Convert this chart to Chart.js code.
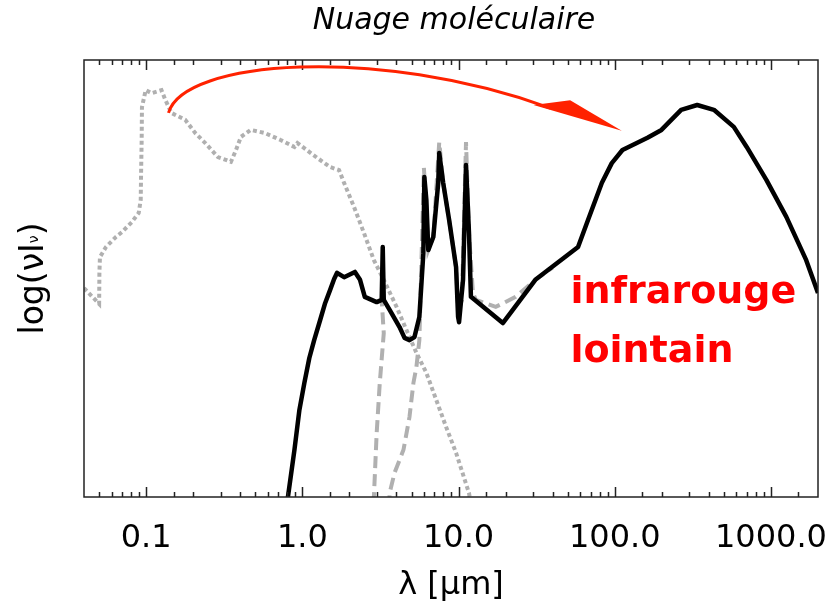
<!DOCTYPE html>
<html>
<head>
<meta charset="utf-8">
<script src="https://cdn.jsdelivr.net/npm/chart.js@4.4.1/dist/chart.umd.min.js"></script>
<style>
  html, body { margin: 0; padding: 0; background: #fff; }
</style>
</head>
<body>
<canvas id="sedChart" width="840" height="607"></canvas>
<script>
// x axis: wavelength in microns (log), y axis: log(nu I_nu), arbitrary units 0..100
const tickValues = [0.1, 1, 10, 100, 1000];
const tickLabels = ['0.1', '1.0', '10.0', '100.0', '1000.0'];

// black solid: emission of the cloud
const dustLambda = [0.78, 0.89, 0.957, 1.03, 1.108, 1.19, 1.30, 1.40, 1.506, 1.597, 1.668, 1.85, 2.17,
  2.34, 2.51, 2.99, 3.22, 3.27, 3.32, 3.62, 4.19, 4.51, 4.85, 5.22, 5.61, 5.95, 6.04, 6.22, 6.40, 6.89,
  7.41, 7.52, 7.97, 8.70, 9.64, 9.93, 10.07, 10.68, 11.16, 11.66, 12.0, 19.2, 31.0, 58.2, 67.4, 82.7,
  95.7, 112, 162, 199, 266, 337, 431, 578, 699, 936, 1254, 1681, 2000];
const dustFlux = [-4, 10.8, 19.9, 26.1, 31.8, 35.9, 40.5, 44.4, 47.4, 49.9, 51.3, 50.3, 51.5,
  49.7, 45.8, 44.6, 45.1, 57.2, 45.1, 42.8, 38.9, 36.4, 35.9, 36.6, 41.2, 55.8, 73.2, 68.0, 56.5, 59.5,
  71.9, 78.7, 71.9, 63.4, 52.6, 41.2, 40.0, 49.7, 76.0, 60.4, 45.8, 39.8, 49.7, 57.2, 63.4, 71.9,
  76.4, 79.4, 82.2, 84.0, 88.6, 89.7, 88.6, 84.7, 80.1, 72.5, 64.1, 54.2, 46.7];

// grey dashed: model emission
const modelLambda = [2.99, 3.22, 3.32, 3.13, 2.99, 2.87, 2.83, 3.57, 3.62, 3.89, 4.44, 4.85, 5.14, 5.37,
  5.61, 6.0, 6.22, 6.40, 6.89, 7.52, 7.97, 8.70, 9.64, 9.93, 10.5, 11.16, 11.66, 12.36, 12.92, 17.3,
  23.2, 31.0, 40.0];
const modelFlux = [44.6, 45.1, 37.5, 26.1, 14.6, 0, -5, -5, 0.9, 5.5, 10.8, 18.3, 26.1, 29.7,
  35.9, 75.3, 65.7, 56.5, 59.5, 81.2, 71.9, 63.4, 52.6, 42.8, 45.0, 81.2, 60.4, 46.7, 45.1, 43.5,
  45.8, 49.7, 52.5];

// grey dotted: stellar radiation
const starLambda = [0.04, 0.05, 0.0502, 0.0506, 0.0553, 0.064, 0.0699, 0.0809, 0.0896, 0.0923, 0.0928,
  0.0936, 0.094, 0.0993, 0.1084, 0.1254, 0.133, 0.145, 0.178, 0.206, 0.239, 0.288, 0.349, 0.376, 0.404,
  0.468, 0.574, 0.725, 0.89, 0.93, 1.245, 1.506, 1.718, 1.848, 2.14, 2.48, 2.87, 3.32, 4.01, 4.64, 5.37,
  6.22, 7.20, 8.33, 9.64, 11.66, 12.3];
const starFlux = [47.8, 44.2, 51.3, 54.9, 57.2, 59.5, 60.6, 62.9, 65.0, 68.0, 74.1,
  81.7, 89.2, 93.1, 92.4, 93.1, 90.8, 87.9, 86.3, 83.3, 81.0, 77.8, 76.7, 79.4, 82.4,
  84.0, 83.3, 81.7, 80.1, 81.0, 77.6, 75.5, 74.8, 71.9, 66.4, 60.4, 54.2, 49.7, 43.5, 38.2, 33.0,
  28.4, 22.2, 16.0, 10.1, 0.9, -4];

// red arrow (bezier) and label, in data coordinates
const arrowCurve = [[0.139, 87.9], [0.173, 100], [2.99, 103.4], [38.7, 89.0]];
const arrowHead = [[30.2, 89.7], [51.8, 90.8], [110.8, 83.8]];
const farIrText = ['infrarouge', 'lointain'];
const farIrPos = [[52, 44.4], [52, 30.9]];

function toPoints(xs, ys) {
  return xs.map((x, i) => ({ x: x, y: ys[i] }));
}

function tickIndex(v) {
  return tickValues.findIndex(t => Math.abs(Math.log10(v) - Math.log10(t)) < 1e-6);
}

const sedDecor = {
  id: 'sedDecor',
  afterDraw(chart) {
    const { ctx, chartArea: a, scales: { x, y } } = chart;
    ctx.save();

    // frame and inward ticks
    ctx.strokeStyle = '#222';
    ctx.lineWidth = 1.5;
    ctx.beginPath();
    x.ticks.forEach(t => {
      const px = Math.round(x.getPixelForValue(t.value)) + 0.5;
      if (px <= a.left + 2 || px >= a.right - 2) return;
      const len = tickIndex(t.value) >= 0 ? 10 : 5;
      ctx.moveTo(px, a.bottom);
      ctx.lineTo(px, a.bottom - len);
      ctx.moveTo(px, a.top);
      ctx.lineTo(px, a.top + len);
    });
    ctx.stroke();
    ctx.strokeRect(a.left, a.top, a.right - a.left, a.bottom - a.top);

    // y axis label: log(nu I_nu)
    ctx.fillStyle = '#000';
    ctx.translate(43, (a.top + a.bottom) / 2);
    ctx.rotate(-Math.PI / 2);
    ctx.textBaseline = 'alphabetic';
    ctx.font = '33px "DejaVu Sans"';
    const main = 'log(\u03bdI';
    const wMain = ctx.measureText(main).width;
    const wClose = ctx.measureText(')').width;
    ctx.font = '14px "DejaVu Sans"';
    const wSub = ctx.measureText('\u03bd').width;
    let cx = -(wMain + wSub + wClose) / 2;
    ctx.font = '33px "DejaVu Sans"';
    ctx.fillText(main, cx, 0);
    cx += wMain;
    ctx.font = '14px "DejaVu Sans"';
    ctx.fillText('\u03bd', cx, -5);
    cx += wSub;
    ctx.font = '33px "DejaVu Sans"';
    ctx.fillText(')', cx, 0);
    ctx.restore();

    // red arrow
    ctx.save();
    const p = arrowCurve.map(d => [x.getPixelForValue(d[0]), y.getPixelForValue(d[1])]);
    ctx.strokeStyle = '#ff2200';
    ctx.fillStyle = '#ff2200';
    ctx.lineWidth = 3;
    ctx.beginPath();
    ctx.moveTo(p[0][0], p[0][1]);
    ctx.bezierCurveTo(p[1][0], p[1][1], p[2][0], p[2][1], p[3][0], p[3][1]);
    ctx.stroke();
    const h = arrowHead.map(d => [x.getPixelForValue(d[0]), y.getPixelForValue(d[1])]);
    ctx.beginPath();
    ctx.moveTo(h[0][0], h[0][1]);
    ctx.lineTo(h[1][0], h[1][1]);
    ctx.lineTo(h[2][0], h[2][1]);
    ctx.closePath();
    ctx.fill();

    // far infrared label
    ctx.fillStyle = '#ff0000';
    ctx.font = 'bold 38px "DejaVu Sans"';
    ctx.textBaseline = 'alphabetic';
    farIrText.forEach((s, i) => {
      ctx.fillText(s, x.getPixelForValue(farIrPos[i][0]), y.getPixelForValue(farIrPos[i][1]));
    });
    ctx.restore();
  }
};

const grey = '#b0b0b0';

new Chart(document.getElementById('sedChart'), {
  type: 'line',
  data: {
    datasets: [
      {
        label: 'Nuage',
        data: toPoints(dustLambda, dustFlux),
        borderColor: '#000',
        borderWidth: 4.5,
        pointRadius: 0,
        tension: 0,
        borderJoinStyle: 'round'
      },
      {
        label: 'Modèle',
        data: toPoints(modelLambda, modelFlux),
        borderColor: grey,
        borderWidth: 4,
        borderDash: [12, 6],
        pointRadius: 0,
        tension: 0
      },
      {
        label: 'Étoiles',
        data: toPoints(starLambda, starFlux),
        borderColor: grey,
        borderWidth: 4,
        borderDash: [4, 3],
        pointRadius: 0,
        tension: 0
      }
    ]
  },
  options: {
    responsive: false,
    animation: false,
    layout: { padding: { left: 84, right: 16, top: 0, bottom: 0 } },
    plugins: {
      legend: { display: false },
      tooltip: { enabled: false },
      title: {
        display: true,
        text: 'Nuage moléculaire',
        color: '#000',
        font: { family: 'DejaVu Sans', size: 30, style: 'italic', weight: 'normal' },
        padding: { top: 3, bottom: 21 }
      }
    },
    scales: {
      x: {
        type: 'logarithmic',
        min: 0.04,
        max: 2000,
        grid: { display: false, drawTicks: false },
        border: { display: false },
        ticks: {
          autoSkip: false,
          maxRotation: 0,
          color: '#000',
          padding: 22,
          font: { family: 'DejaVu Sans', size: 32 },
          callback: v => {
            const i = tickIndex(v);
            return i >= 0 ? tickLabels[i] : '';
          }
        },
        title: {
          display: true,
          text: 'λ [μm]',
          color: '#000',
          font: { family: 'DejaVu Sans', size: 32 },
          padding: { top: 0, bottom: 2 }
        },
        afterFit: s => { s.height = 110; }
      },
      y: { display: false, min: 0, max: 100 }
    }
  },
  plugins: [sedDecor]
});
</script>
</body>
</html>
